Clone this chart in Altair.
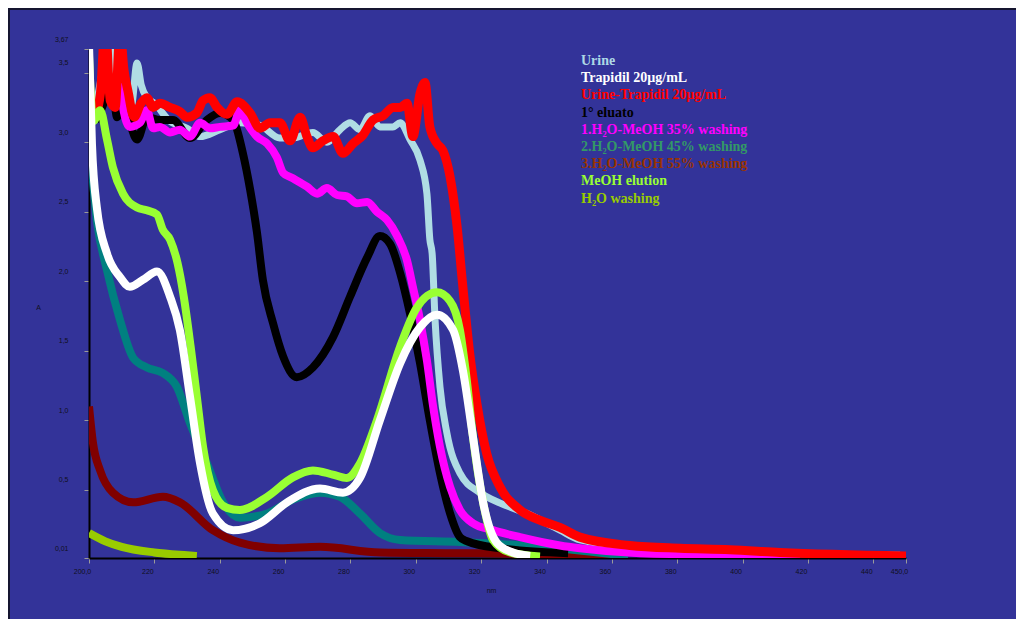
import altair as alt
import pandas as pd

# ---------------- data ----------------
urine_nm = [202.0, 204.0, 205.8, 207.5, 209.0, 211.0, 213.0, 214.7, 216.0, 217.7, 220.0, 224.8, 230.0,
            234.0, 240.1, 246.2, 252.3, 258.4, 262.4, 268.5, 272.8, 276.8, 279.9, 282.9, 286.0, 289.0,
            293.0, 295.2, 298.2, 301.3, 303.4, 304.3, 305.0, 305.9, 307.4, 309.5, 313.5, 319.6, 325.8,
            334.0, 344.1, 350.2, 371.7, 402.3, 448.2]
urine_abs = [3.25, 3.50, 3.75, 3.55, 3.25, 3.20, 3.25, 3.57, 3.41, 3.32, 3.28, 3.15, 3.10,
             3.04, 3.09, 3.14, 3.12, 3.03, 3.03, 3.07, 3.00, 3.09, 3.14, 3.09, 3.19, 3.11,
             3.11, 3.14, 3.02, 2.87, 2.63, 2.30, 2.20, 1.72, 1.24, 0.91, 0.62, 0.48, 0.405,
             0.33, 0.21, 0.14, 0.08, 0.05, 0.03]

trapidil_nm = [200.0, 200.9, 202.4, 205.5, 209.5, 212.5, 216.5, 220.8, 224.8, 227.8, 230.9, 234.0,
               237.9, 244.1, 252.3, 260.6, 270.7, 277.7, 282.9, 289.0, 295.2, 301.3, 306.5, 311.4,
               314.4, 317.5, 320.6, 324.8, 329.7, 335.0]
trapidil_abs = [3.70, 2.99, 2.53, 2.20, 2.03, 1.96, 2.01, 2.07, 1.89, 1.65, 1.17, 0.69,
                0.33, 0.21, 0.26, 0.41, 0.51, 0.48, 0.585, 1.00, 1.41, 1.67, 1.76, 1.65,
                1.36, 0.88, 0.41, 0.12, 0.05, 0.025]

urtrap_nm = [202.0, 203.5, 205.0, 206.5, 208.0, 209.5, 210.7, 211.9, 213.8, 215.9, 217.7, 219.6, 221.7,
             224.8, 227.8, 230.0, 233.0, 234.9, 237.0, 239.2, 242.2, 245.3, 249.3, 252.3, 255.4,
             258.4, 261.5, 264.6, 266.7, 268.5, 271.6, 274.7, 277.7, 280.8, 283.8, 286.9, 290.0,
             293.0, 295.2, 297.3, 299.1, 301.3, 302.8, 304.3, 306.5, 308.3, 310.5, 312.6, 314.4,
             316.5, 318.7, 321.7, 325.8, 331.9, 338.1, 344.1, 350.2, 365.5, 380.8, 396.1, 411.4, 450.0]
urtrap_abs = [3.20, 3.35, 3.85, 3.30, 3.25, 3.80, 3.52, 3.37, 3.18, 3.28, 3.32, 3.25, 3.28,
              3.25, 3.22, 3.18, 3.21, 3.30, 3.32, 3.25, 3.20, 3.29, 3.21, 3.10, 3.14,
              3.14, 3.01, 3.18, 3.04, 2.96, 3.01, 3.04, 2.92, 2.99, 3.05, 3.16, 3.19,
              3.25, 3.25, 3.28, 3.04, 3.35, 3.43, 3.11, 2.99, 2.94, 2.75, 2.40, 1.96,
              1.48, 1.12, 0.76, 0.52, 0.355, 0.28, 0.23, 0.16, 0.10, 0.08, 0.07, 0.05, 0.025]

eluato_nm = [202.0, 204.0, 207.0, 208.6, 210.4, 212.5, 214.7, 217.7, 221.7, 225.7, 230.9, 236.1,
             240.1, 244.1, 247.1, 249.3, 251.4, 253.2, 256.3, 259.4, 263.6, 268.5, 274.7, 279.9,
             285.1, 289.0, 292.1, 295.2, 298.2, 301.3, 304.3, 307.4, 310.5, 313.5, 315.7, 325.8, 346.6]
eluato_abs = [3.15, 3.25, 3.42, 3.18, 3.30, 3.14, 3.02, 3.18, 3.16, 3.16, 3.03, 3.16,
              3.21, 3.16, 2.92, 2.66, 2.35, 2.01, 1.70, 1.46, 1.31, 1.38, 1.60, 1.89,
              2.17, 2.325, 2.27, 2.06, 1.77, 1.41, 1.00, 0.62, 0.33, 0.16, 0.13, 0.08, 0.045]

w35_nm = [208.6, 210.4, 212.5, 215.6, 217.7, 219.6, 221.7, 224.8, 227.8, 230.9, 234.0, 237.0, 240.1,
          244.1, 246.2, 248.3, 251.4, 254.5, 257.5, 259.4, 262.4, 266.7, 269.8, 272.8, 275.9,
          278.9, 282.0, 285.1, 288.1, 291.2, 294.2, 297.3, 299.1, 301.3, 303.4, 305.3, 307.4,
          310.5, 313.5, 317.5, 323.6, 331.9, 344.1, 350.2, 368.6, 417.6]
w35_abs = [3.80, 3.25, 3.11, 3.14, 3.23, 3.10, 3.11, 3.07, 3.09, 3.04, 3.14, 3.10, 3.11,
           3.12, 3.23, 3.14, 3.04, 2.99, 2.89, 2.78, 2.74, 2.68, 2.63, 2.67, 2.62,
           2.61, 2.56, 2.57, 2.50, 2.44, 2.33, 2.15, 1.96, 1.72, 1.43, 1.10, 0.81,
           0.52, 0.355, 0.26, 0.21, 0.16, 0.10, 0.08, 0.045, 0.025]

w45_nm = [200.0, 202.4, 205.5, 209.5, 213.5, 217.7, 222.6, 226.9, 230.9, 236.1, 241.0, 246.2,
          254.5, 262.4, 270.7, 276.8, 282.9, 289.0, 295.2, 313.5, 338.0, 365.0]
w45_abs = [3.05, 2.44, 2.08, 1.72, 1.45, 1.38, 1.34, 1.24, 0.98, 0.69, 0.41, 0.30,
           0.33, 0.43, 0.48, 0.45, 0.33, 0.19, 0.14, 0.125, 0.09, 0.025]

w55_nm = [200.0, 201.2, 203.4, 207.3, 213.5, 222.6, 227.8, 237.9, 246.2, 258.4, 270.7, 289.0,
          310.5, 331.9, 360.0]
w55_abs = [1.10, 0.84, 0.64, 0.48, 0.41, 0.45, 0.41, 0.21, 0.12, 0.08, 0.09, 0.05,
           0.045, 0.04, 0.02]

meoh_nm = [200.0, 201.3, 203.4, 205.5, 207.3, 210.4, 214.7, 217.7, 220.8, 222.6, 224.8, 227.1,
           229.0, 231.1, 233.0, 234.9, 237.9, 242.2, 246.2, 254.5, 262.4, 268.5, 274.6, 278.9,
           282.9, 288.1, 295.2, 300.3, 306.5, 310.4, 313.5, 315.6, 317.5, 320.6, 323.6, 328.8, 338.0]
meoh_abs = [3.62, 3.15, 3.23, 3.02, 2.82, 2.63, 2.53, 2.51, 2.48, 2.37, 2.30, 2.13,
            1.89, 1.53, 1.17, 0.81, 0.50, 0.37, 0.355, 0.45, 0.59, 0.64, 0.61, 0.585,
            0.69, 1.00, 1.53, 1.81, 1.92, 1.86, 1.65, 1.29, 0.88, 0.41, 0.14, 0.05, 0.02]

h2o_nm = [200.0, 205.0, 210.0, 220.0, 230.0, 233.0]
h2o_abs = [0.19, 0.13, 0.09, 0.05, 0.03, 0.025]

legend_names = ["Urine", "Trapidil 20µg/mL", "Urine-Trapidil 20µg/mL", "1° eluato",
                "1.H₂O-MeOH 35% washing", "2.H₂O-MeOH 45% washing", "3.H₂O-MeOH 55% washing",
                "MeOH elution", "H₂O washing"]
legend_colors = ["#add8e6", "#ffffff", "#ff0000", "#000000", "#ff00ff", "#339966",
                 "#993300", "#99ff33", "#99cc00"]

x_ticks = [200, 220, 240, 260, 280, 300, 320, 340, 360, 380, 400, 420, 440, 450]
y_ticks = [0.01, 0.5, 1.0, 1.5, 2.0, 2.5, 3.0, 3.5, 3.67]

# series: (nm, abs, line colour, stroke width) in drawing order (bottom first)
series = [
    (h2o_nm, h2o_abs, "#99cc00", 8),
    (w55_nm, w55_abs, "#800000", 8),
    (w45_nm, w45_abs, "#008080", 8),
    (urine_nm, urine_abs, "#b0dde4", 7),
    (eluato_nm, eluato_abs, "#000000", 8),
    (w35_nm, w35_abs, "#ff00ff", 8),
    (urtrap_nm, urtrap_abs, "#ff0000", 9),
    (meoh_nm, meoh_abs, "#99ff33", 8),
    (trapidil_nm, trapidil_abs, "#ffffff", 8),
]

# ---------------- scales / axes ----------------
PLOT_W, PLOT_H = 817, 509
LABEL_FONT = "Liberation Sans"
LABEL_COLOR = "#101020"

xscale = alt.Scale(domain=[200, 450], nice=False, zero=False)
yscale = alt.Scale(domain=[0.01, 3.67], nice=False, zero=False)

xaxis = alt.Axis(
    values=x_ticks,
    labelExpr="datum.value == 200 ? '200,0' : (datum.value == 450 ? '450,0' : format(datum.value, 'd'))",
    labelFont=LABEL_FONT, labelFontSize=7, labelColor=LABEL_COLOR,
    labelOffset=-7, labelPadding=4, labelFlush=False, labelOverlap=False,
    tickSize=5, tickColor="#9a9a9a", tickWidth=1,
    domainColor="#000000", domainWidth=2, grid=False,
    title="nm", titleFont=LABEL_FONT, titleFontSize=7, titleFontWeight="normal",
    titleColor=LABEL_COLOR, titleX=402, titleY=32, titleAlign="center", titleBaseline="middle",
)
yaxis = alt.Axis(
    values=y_ticks,
    labelExpr="datum.value == 0.01 ? '0,01' : (datum.value == 3.67 ? '3,67' : replace(format(datum.value, '.1f'), '.', ','))",
    labelFont=LABEL_FONT, labelFontSize=7, labelColor=LABEL_COLOR,
    labelOffset=-10, labelPadding=16, labelFlush=False, labelOverlap=False,
    tickSize=5, tickColor="#9a9a9a", tickWidth=1,
    domainColor="#000000", domainWidth=2, grid=False,
    title="A", titleFont=LABEL_FONT, titleFontSize=7, titleFontWeight="normal",
    titleColor=LABEL_COLOR, titleAngle=0, titleX=-51, titleY=258,
    titleAlign="center", titleBaseline="middle",
)

layers = []
for nm, ab, col, sw in series:
    df = pd.DataFrame({"nm": nm, "A": ab})
    layers.append(
        alt.Chart(df).mark_line(color=col, strokeWidth=sw, interpolate="monotone",
                                clip=True, strokeCap="butt", strokeJoin="round").encode(
            x=alt.X("nm:Q", scale=xscale, axis=xaxis),
            y=alt.Y("A:Q", scale=yscale, axis=yaxis),
        )
    )

# legend as coloured text rows, placed in data units from row index
units_per_px = (3.67 - 0.01) / PLOT_H
leg_df = pd.DataFrame({
    "name": legend_names,
    "col": legend_colors,
    "ly": [3.67 - (12 + 17.2 * i) * units_per_px for i in range(len(legend_names))],
})
legend = alt.Chart(leg_df).mark_text(
    align="left", baseline="middle", font="Liberation Serif", fontWeight="bold", fontSize=14
).encode(
    x=alt.value(492),
    y=alt.Y("ly:Q", scale=yscale, axis=yaxis),
    text="name:N",
    color=alt.Color("col:N", scale=None),
)

# thin dark frame on the top and left edge of the panel
frame_top = alt.Chart(pd.DataFrame({"k": [0]})).mark_rule(color="#151530", strokeWidth=2).encode(
    x=alt.value(-81), x2=alt.value(PLOT_W + 110), y=alt.value(-40))
frame_left = alt.Chart(pd.DataFrame({"k": [0]})).mark_rule(color="#151530", strokeWidth=2).encode(
    x=alt.value(-80), y=alt.value(-41), y2=alt.value(PLOT_H + 61))

chart = alt.layer(*layers, legend, frame_top, frame_left).properties(
    width=PLOT_W, height=PLOT_H,
    autosize=alt.AutoSizeParams(type="none"),
    padding={"left": 81, "top": 41, "right": 110, "bottom": 61},
    background="#333399",
).configure_view(stroke=None)

chart.save("out.html", embed_options={"renderer": "svg", "actions": False})
